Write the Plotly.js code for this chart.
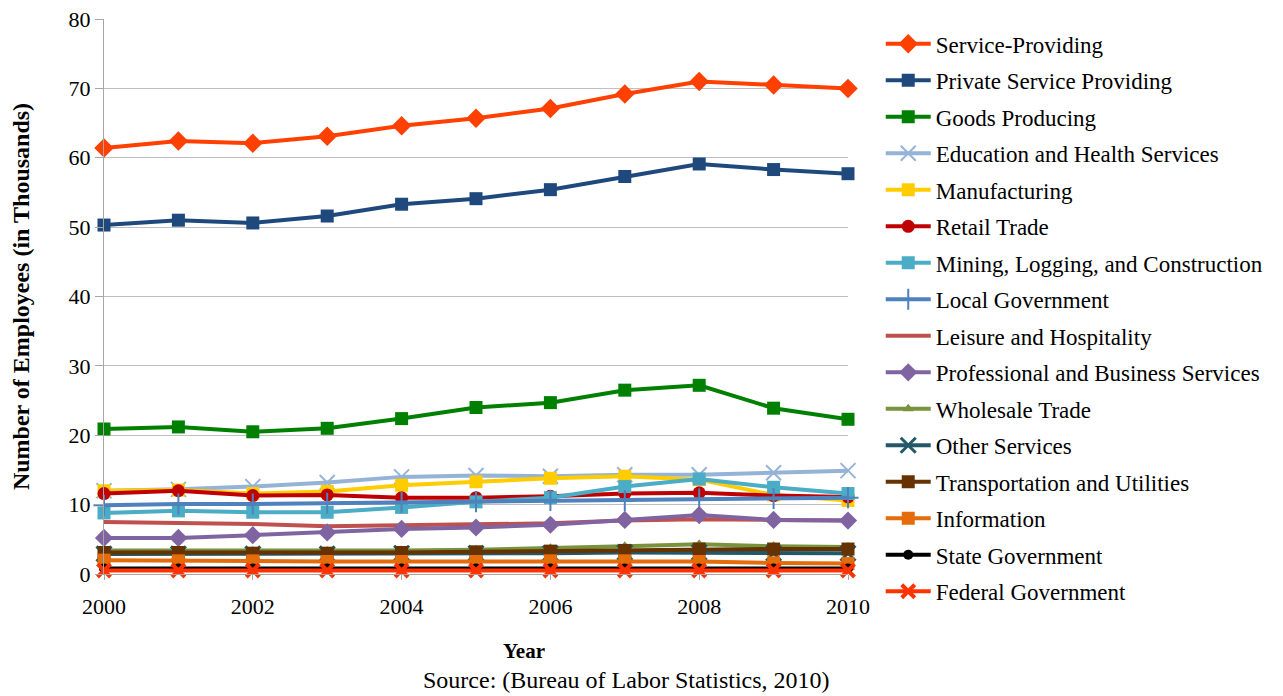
<!DOCTYPE html>
<html>
<head>
<meta charset="utf-8">
<script src="https://cdn.plot.ly/plotly-3.0.1.min.js"></script>
<style>html,body{margin:0;padding:0;background:#fff;}#chart{width:1283px;height:696px;}</style>
</head>
<body>
<div id="chart"></div>
<script>
var years = [2000,2001,2002,2003,2004,2005,2006,2007,2008,2009,2010];
var seriesNames = ["Service-Providing","Private Service Providing","Goods Producing","Education and Health Services","Manufacturing","Retail Trade","Mining, Logging, and Construction","Local Government","Leisure and Hospitality","Professional and Business Services","Wholesale Trade","Other Services","Transportation and Utilities","Information","State Government","Federal Government"];
var serviceProviding = [61.4,62.4,62.1,63.1,64.6,65.7,67.1,69.2,71.0,70.5,70.0];
var privateService = [50.3,51.0,50.6,51.6,53.3,54.1,55.4,57.3,59.1,58.3,57.7];
var goodsProducing = [20.9,21.2,20.5,21.0,22.4,24.0,24.7,26.5,27.2,23.9,22.3];
var educationHealth = [12.0,12.2,12.6,13.2,14.0,14.2,14.1,14.3,14.3,14.6,14.9];
var manufacturing = [12.0,12.1,11.6,11.9,12.8,13.3,13.8,14.1,13.6,11.4,10.6];
var retailTrade = [11.6,12.0,11.3,11.4,11.0,11.0,11.2,11.6,11.7,11.3,11.1];
var miningConstruction = [8.8,9.1,8.9,8.9,9.6,10.4,11.0,12.6,13.7,12.5,11.6];
var localGovernment = [9.9,10.1,10.1,10.2,10.3,10.4,10.6,10.6,10.8,10.9,11.0];
var leisureHospitality = [7.5,7.4,7.2,6.9,7.0,7.1,7.3,7.7,7.9,7.8,7.7];
var professionalBusiness = [5.2,5.2,5.6,6.0,6.5,6.7,7.1,7.8,8.5,7.8,7.7];
var wholesaleTrade = [3.4,3.4,3.3,3.3,3.4,3.5,3.7,4.0,4.3,4.0,3.9];
var otherServices = [2.9,2.9,2.9,2.9,3.0,3.0,3.0,3.1,3.1,3.0,3.0];
var transportUtilities = [3.1,3.1,3.0,3.0,3.1,3.2,3.3,3.4,3.6,3.6,3.6];
var information = [2.0,1.9,1.9,1.8,1.8,1.8,1.9,1.9,1.8,1.6,1.5];
var stateGovernment = [0.8,0.8,0.8,0.8,0.8,0.8,0.8,0.8,0.8,0.8,0.8];
var federalGovernment = [0.5,0.5,0.5,0.5,0.5,0.5,0.5,0.5,0.5,0.5,0.5];
var xTickVals = [2000,2002,2004,2006,2008,2010];
var yTickVals = [0,10,20,30,40,50,60,70,80];

var allValues = [serviceProviding,privateService,goodsProducing,educationHealth,manufacturing,retailTrade,miningConstruction,localGovernment,leisureHospitality,professionalBusiness,wholesaleTrade,otherServices,transportUtilities,information,stateGovernment,federalGovernment];
var styles = [
  {c:"#FF4000", s:"diamond", z:15, w:4},
  {c:"#1F497D", s:"square", z:13, w:4},
  {c:"#008000", s:"square", z:13, w:4},
  {c:"#95B3D7", s:"x-thin-open", z:15, w:4, lw:2},
  {c:"#FFCC00", s:"square", z:13, w:4},
  {c:"#C00000", s:"circle", z:13, w:4},
  {c:"#4BACC6", s:"square", z:13, w:4},
  {c:"#4F81BD", s:"cross-thin-open", z:15, w:4, lw:2},
  {c:"#C0504D", s:"none", z:0, w:4},
  {c:"#8064A2", s:"diamond", z:14, w:4},
  {c:"#77933C", s:"triangle-up", z:10, w:4},
  {c:"#215968", s:"x-thin-open", z:15, w:4, lw:3},
  {c:"#663300", s:"square", z:13, w:4},
  {c:"#E46C0A", s:"square", z:13, w:4},
  {c:"#000000", s:"circle", z:10, w:4},
  {c:"#FF3300", s:"x-thin-open", z:13, w:4, lw:4}
];
var font = "'Liberation Serif', 'Times New Roman', serif";
var traces = seriesNames.map(function(n,i){
  var st = styles[i];
  var t = {x: years, y: allValues[i], name: n, type: "scatter", cliponaxis: false,
    legendgroup: "g"+i,
    mode: st.s === "none" ? "lines" : "lines+markers",
    line: {color: st.c, width: st.w}};
  if (st.s !== "none") t.marker = {symbol: st.s, size: st.z, color: st.c, line: {color: st.c, width: st.lw || 0}};
  return t;
});
var layout = {
  width: 1283, height: 696,
  margin: {l: 104, r: 435, t: 19, b: 122},
  paper_bgcolor: "#fff", plot_bgcolor: "#fff",
  font: {family: font, size: 22, color: "#000"},
  showlegend: true,
  legend: {x: 1.044, y: 0.994, xanchor: "left", yanchor: "top", tracegroupgap: 3.6, itemwidth: 45, maxheight: 696,
    font: {family: font, size: 23, color: "#000"}, bgcolor: "rgba(0,0,0,0)"},
  xaxis: {range: [2000, 2010], tickvals: xTickVals, ticktext: xTickVals.map(String),
    showgrid: false, zeroline: false, showline: true, linecolor: "#A6A6A6", linewidth: 1,
    ticks: "outside", ticklen: 5, tickcolor: "#A6A6A6", tickfont: {family: font, size: 22},
    ticklabelstandoff: 8},
  yaxis: {range: [0, 80], tickvals: yTickVals, showgrid: true, gridcolor: "#BFBFBF", gridwidth: 1,
    zeroline: false, showline: true, linecolor: "#A6A6A6", linewidth: 1, automargin: false,
    ticks: "outside", ticklen: 8, tickcolor: "#A6A6A6", tickfont: {family: font, size: 22},
    title: {text: "<b>Number of Employees (in Thousands)</b>", font: {family: font, size: 24}, standoff: 32}},
  annotations: [
    {text: "<b>Year</b>", xref: "paper", yref: "paper", x: (524-104)/744, y: -(651-574)/555, xanchor: "center", yanchor: "middle", showarrow: false, font: {family: font, size: 21}},
    {text: "Source: (Bureau of Labor Statistics, 2010)", xref: "paper", yref: "paper", x: (626-104)/744, y: -(680-574)/555, xanchor: "center", yanchor: "middle", showarrow: false, font: {family: font, size: 24}}
  ]
};
Plotly.newPlot("chart", traces, layout, {displayModeBar: false, staticPlot: true});
</script>
</body>
</html>
